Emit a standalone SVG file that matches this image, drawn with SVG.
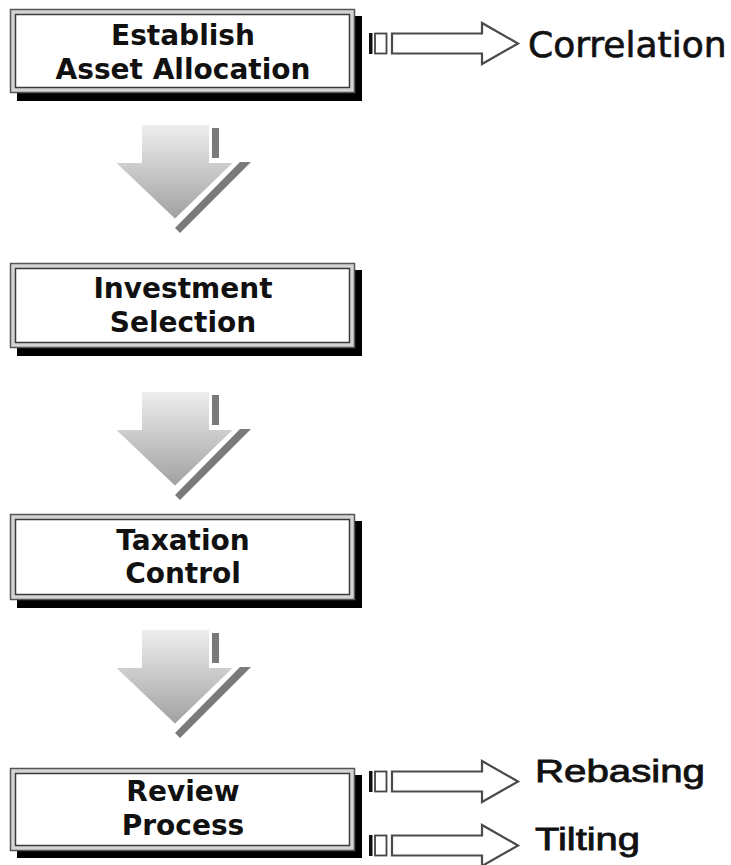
<svg xmlns="http://www.w3.org/2000/svg" xmlns:xlink="http://www.w3.org/1999/xlink" width="731" height="865" viewBox="0 0 731 865">
<defs>
<style>
.shadow{fill:#000}
.frame{fill:#d4d4d4;stroke:#555;stroke-width:1.5}
.inner{fill:#fff;stroke:#3a3a3a;stroke-width:1.5}
.lbl{font-family:"DejaVu Sans",Verdana,sans-serif;font-weight:bold;font-size:28px;fill:#111;text-anchor:middle}
.side{font-family:"DejaVu Sans",Verdana,sans-serif;font-size:36px;fill:#111;stroke:#111;stroke-width:0.7}
.side2{font-family:"Liberation Sans",Arial,sans-serif;font-size:31px;fill:#111;stroke:#111;stroke-width:0.8}
.rout{fill:#fff;stroke:#4a4a4a;stroke-width:2.2;stroke-linejoin:miter}
</style>
<linearGradient id="g" x1="0" y1="0" x2="0" y2="1">
<stop offset="0" stop-color="#efefef"/>
<stop offset="1" stop-color="#a0a0a0"/>
</linearGradient>
<g id="down">
<rect x="212" y="4" width="7" height="30" fill="#7a7a7a"/>
<polygon points="240,38 251,38 180,109 175,104" fill="#7a7a7a"/>
<polygon points="141,0 210,0 210,38 235,38 175,96 114,38 141,38" fill="url(#g)" stroke="#fff" stroke-width="2"/>
</g>
<g id="right">
<rect x="369" y="0" width="3.5" height="21" fill="#111"/>
<rect x="375" y="0.5" width="11.5" height="20" fill="#fff" stroke="#444" stroke-width="1.8"/>
<polygon class="rout" points="392,0.5 482,0.5 482,-10 518,10.5 482,31 482,20.5 392,20.5"/>
</g>
</defs>
<rect width="731" height="865" fill="#fff"/>

<g id="connectors">
<use xlink:href="#down" y="124"/>
<use xlink:href="#down" y="391"/>
<use xlink:href="#down" y="629"/>
<use xlink:href="#right" y="33"/>
<use xlink:href="#right" y="771"/>
<use xlink:href="#right" y="835"/>
</g>

<g id="node-establish">
<rect class="shadow" x="17" y="16" width="345" height="85"/>
<rect class="frame" x="10.5" y="9.5" width="344" height="83"/>
<rect class="inner" x="15.5" y="14.5" width="334" height="73"/>
<text class="lbl" x="183" y="45">Establish</text>
<text class="lbl" x="183" y="79">Asset Allocation</text>
</g>

<g id="node-investment">
<rect class="shadow" x="17" y="270" width="345" height="86"/>
<rect class="frame" x="10.5" y="263.5" width="344" height="84"/>
<rect class="inner" x="15.5" y="268.5" width="334" height="74"/>
<text class="lbl" x="183" y="298">Investment</text>
<text class="lbl" x="183" y="332">Selection</text>
</g>

<g id="node-taxation">
<rect class="shadow" x="17" y="521" width="345" height="87"/>
<rect class="frame" x="10.5" y="514.5" width="344" height="85"/>
<rect class="inner" x="15.5" y="519.5" width="334" height="75"/>
<text class="lbl" x="183" y="550">Taxation</text>
<text class="lbl" x="183" y="583">Control</text>
</g>

<g id="node-review">
<rect class="shadow" x="17" y="775" width="345" height="83"/>
<rect class="frame" x="10.5" y="768.5" width="344" height="82"/>
<rect class="inner" x="15.5" y="773.5" width="334" height="72"/>
<text class="lbl" x="183" y="801">Review</text>
<text class="lbl" x="183" y="835">Process</text>
</g>

<g id="node-correlation">
<text class="side" x="528" y="57">Correlation</text>
</g>
<g id="node-rebasing">
<text class="side2" x="535" y="782" textLength="170" lengthAdjust="spacingAndGlyphs">Rebasing</text>
</g>
<g id="node-tilting">
<text class="side2" x="535" y="850" textLength="105" lengthAdjust="spacingAndGlyphs">Tilting</text>
</g>
</svg>
